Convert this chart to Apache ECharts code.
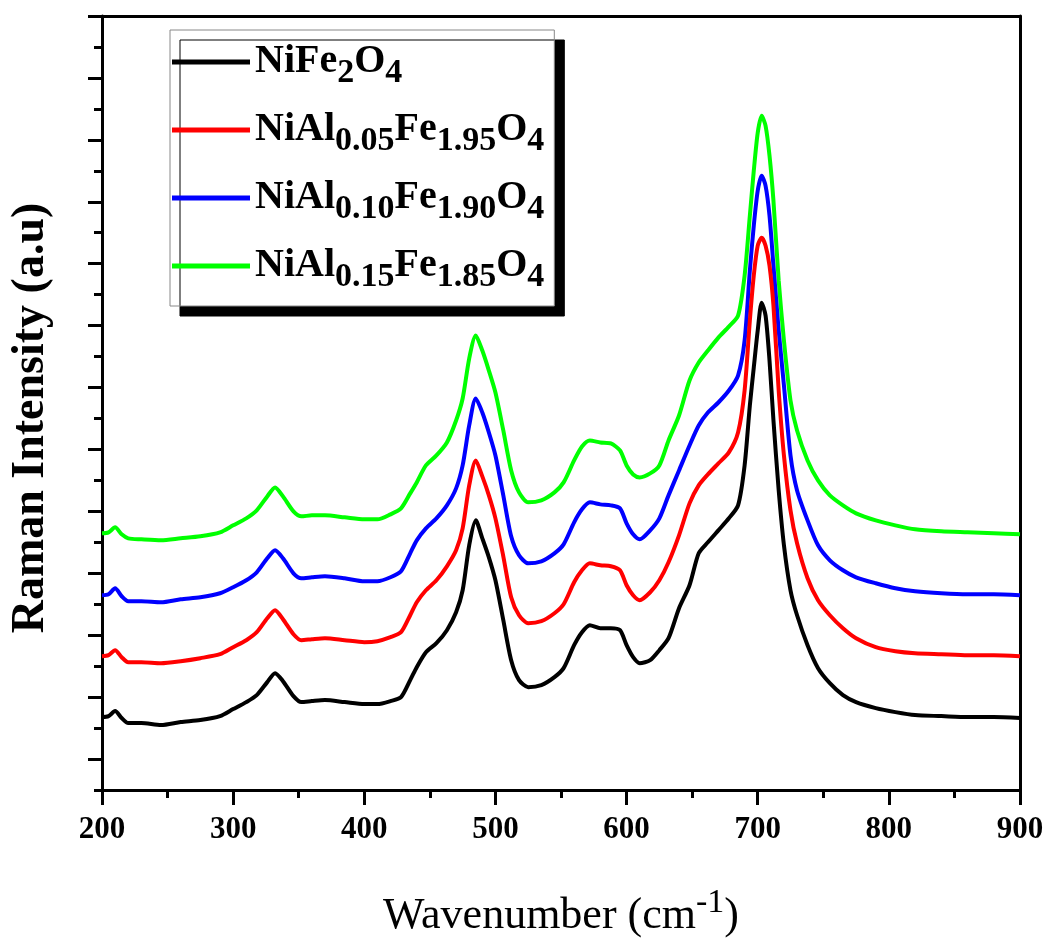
<!DOCTYPE html>
<html>
<head>
<meta charset="utf-8">
<script src="https://cdn.jsdelivr.net/npm/echarts@6/dist/echarts.min.js"></script>
<style>
html,body{margin:0;padding:0;background:#fff;}
#chart{width:1050px;height:950px;}
</style>
</head>
<body>
<div id="chart"></div>
<script>
// Raman shift (cm-1)
const wavenumbers = [200,205,210,215,220,230,245,260,275,290,300,310,318,326,332,338,346,352,360,370,385,400,410,420,428,435,440,447,455,463,470,475,480,485,490,495,500,506,512,518,525,535,545,552,560,566,572,580,588,595,600,605,610,618,625,632,640,648,655,662,670,678,685,690,694,697,700,703,706,709,712,716,720,725,730,738,746,755,765,775,790,805,820,840,860,880,900];

// Intensities (a.u., stacked offsets as in the figure)
const niFe2O4 = [73,74,79,72,67, 67,65,68,70,74, 81,88,95,108,117, 109,94,88,89,90, 88,86,86,89,93, 110,123,138,147,160, 178,200,245,270,252, 233,210,170,130,110, 103,105,113,122,145, 158,165,162,162,160, 145,133,127,130,140, 152,182,205,237,248, 260,272,285,325,385, 423,460,488,475,430, 370,300,245,200,175, 145,122,107,95,88, 82,78,75,74,73, 73,72];
const niAl005 = [134,135,140,133,128, 128,127,129,132,136, 143,150,158,172,180, 171,156,150,151,152, 150,148,149,153,158, 175,188,200,210,224, 240,262,305,330,314, 295,272,234,193,175, 167,169,177,186,208, 220,227,225,224,220, 205,195,190,198,210, 228,255,287,305,316, 327,338,358,400,470, 515,545,553,545,525, 485,400,335,280,247, 212,190,175,162,152, 143,139,137,136,135, 135,134];
const niAl010 = [195,196,202,194,189, 189,188,191,193,197, 203,210,218,232,240, 232,217,212,213,214, 212,209,209,213,219, 237,250,262,272,285, 302,325,365,392,378, 358,335,295,254,235, 227,229,237,246,268, 281,288,286,285,282, 267,256,251,260,272, 295,320,345,365,378, 388,400,415,450,520, 565,600,615,605,575, 525,460,405,335,300, 270,245,230,220,213, 207,202,199,197,196, 196,195];
const niAl015 = [257,258,263,256,252, 251,250,252,254,258, 265,272,280,294,303, 294,279,274,275,275, 273,271,271,276,282, 297,308,325,335,348, 370,392,432,455,440, 420,398,360,320,298, 288,290,298,308,330, 344,350,348,347,340, 325,316,313,317,325, 350,375,410,428,440, 453,464,475,515,575, 620,658,675,665,635, 590,510,450,390,360, 330,310,295,285,277, 270,265,261,259,258, 257,256];

const seriesNames = ['NiFe2O4','NiAl0.05Fe1.95O4','NiAl0.10Fe1.90O4','NiAl0.15Fe1.85O4'];
const legendRich = {
  'NiFe2O4': '{m|NiFe}{s|2}{m|O}{s|4}',
  'NiAl0.05Fe1.95O4': '{m|NiAl}{s|0.05}{m|Fe}{s|1.95}{m|O}{s|4}',
  'NiAl0.10Fe1.90O4': '{m|NiAl}{s|0.10}{m|Fe}{s|1.90}{m|O}{s|4}',
  'NiAl0.15Fe1.85O4': '{m|NiAl}{s|0.15}{m|Fe}{s|1.85}{m|O}{s|4}'
};
const seriesData = [niFe2O4, niAl005, niAl010, niAl015];
const colors = ['#000000','#ff0000','#0000ff','#00ff00'];

const yMax = 775;
const yMajor = []; for (let v = 31; v <= yMax; v += 62) yMajor.push(v);
const yMinor = []; for (let v = 0; v < yMax; v += 62) yMinor.push(v);

const font = 'Liberation Serif, Times New Roman, serif';
const chart = echarts.init(document.getElementById('chart'), null, {renderer:'canvas'});

const series = seriesNames.map((n, i) => ({
  name: n,
  type: 'line',
  xAxisIndex: 0,
  yAxisIndex: 0,
  data: wavenumbers.map((w, k) => [w, seriesData[i][k]]),
  symbol: 'none',
  smooth: 0.25,
  lineStyle: {color: colors[i], width: 4},
  itemStyle: {color: colors[i]},
  z: 2 + (3 - i)
}));

chart.setOption({
  animation: false,
  backgroundColor: '#fff',
  grid: {left: 101, right: 30, top: 16, bottom: 160},
  legend: {
    data: seriesNames,
    orient: 'vertical',
    left: 170, top: 30,
    padding: [12, 10, 12, 2],
    itemWidth: 78, itemHeight: 5,
    itemGap: 20,
    icon: 'rect',
    backgroundColor: '#fff',
    borderColor: '#888',
    borderWidth: 1,
    shadowColor: '#000',
    shadowBlur: 0,
    shadowOffsetX: 10,
    shadowOffsetY: 10,
    formatter: n => legendRich[n],
    textStyle: {
      fontFamily: font, fontWeight: 'bold', color: '#000',
      rich: {
        m: {fontFamily: font, fontWeight: 'bold', fontSize: 40, lineHeight: 56, verticalAlign: 'middle', color:'#000'},
        s: {fontFamily: font, fontWeight: 'bold', fontSize: 34, lineHeight: 34, verticalAlign: 'bottom', color:'#000'}
      }
    }
  },
  xAxis: [{
    type: 'value', position: 'bottom',
    min: 200, max: 900, interval: 100,
    axisLine: {show: true, onZero: false, lineStyle: {color: '#000', width: 3}},
    axisTick: {show: true, length: 15, lineStyle: {color: '#000', width: 3}},
    minorTick: {show: true, splitNumber: 2, length: 8, lineStyle: {color: '#000', width: 3}},
    splitLine: {show: false},
    axisLabel: {margin: 24, fontFamily: font, fontWeight: 'bold', fontSize: 31, color: '#000'},
    name: '{a|Wavenumber (cm}{b|-1}{a|)}',
    nameLocation: 'middle', nameGap: 96,
    nameTextStyle: {
      fontFamily: font, color: '#000',
      rich: {
        a: {fontFamily: font, fontSize: 44, lineHeight: 60, verticalAlign: 'middle', color:'#000'},
        b: {fontFamily: font, fontSize: 34, lineHeight: 34, verticalAlign: 'top', color:'#000'}
      }
    }
  }, {
    type: 'value', position: 'top', min: 200, max: 900,
    axisLine: {show: true, onZero: false, lineStyle: {color: '#000', width: 3}},
    axisTick: {show: false}, axisLabel: {show: false}, splitLine: {show: false}
  }],
  yAxis: [{
    type: 'value', position: 'left', min: 0, max: yMax,
    axisLine: {show: true, onZero: false, lineStyle: {color: '#000', width: 3}},
    axisTick: {show: true, customValues: yMajor, length: 14, lineStyle: {color: '#000', width: 3}},
    axisLabel: {show: false},
    splitLine: {show: false},
    name: 'Raman Intensity (a.u)',
    nameLocation: 'middle', nameGap: 48,
    nameTextStyle: {fontFamily: font, fontWeight: 'bold', fontSize: 46, color: '#000', padding: [0, 30, 0, 0]}
  }, {
    type: 'value', position: 'left', min: 0, max: yMax,
    axisLine: {show: false},
    axisTick: {show: true, customValues: yMinor, length: 8, lineStyle: {color: '#000', width: 3}},
    axisLabel: {show: false}, splitLine: {show: false}
  }, {
    type: 'value', position: 'right', min: 0, max: yMax,
    axisLine: {show: true, onZero: false, lineStyle: {color: '#000', width: 3}},
    axisTick: {show: false}, axisLabel: {show: false}, splitLine: {show: false}
  }],
  series: series
});
</script>
</body>
</html>
